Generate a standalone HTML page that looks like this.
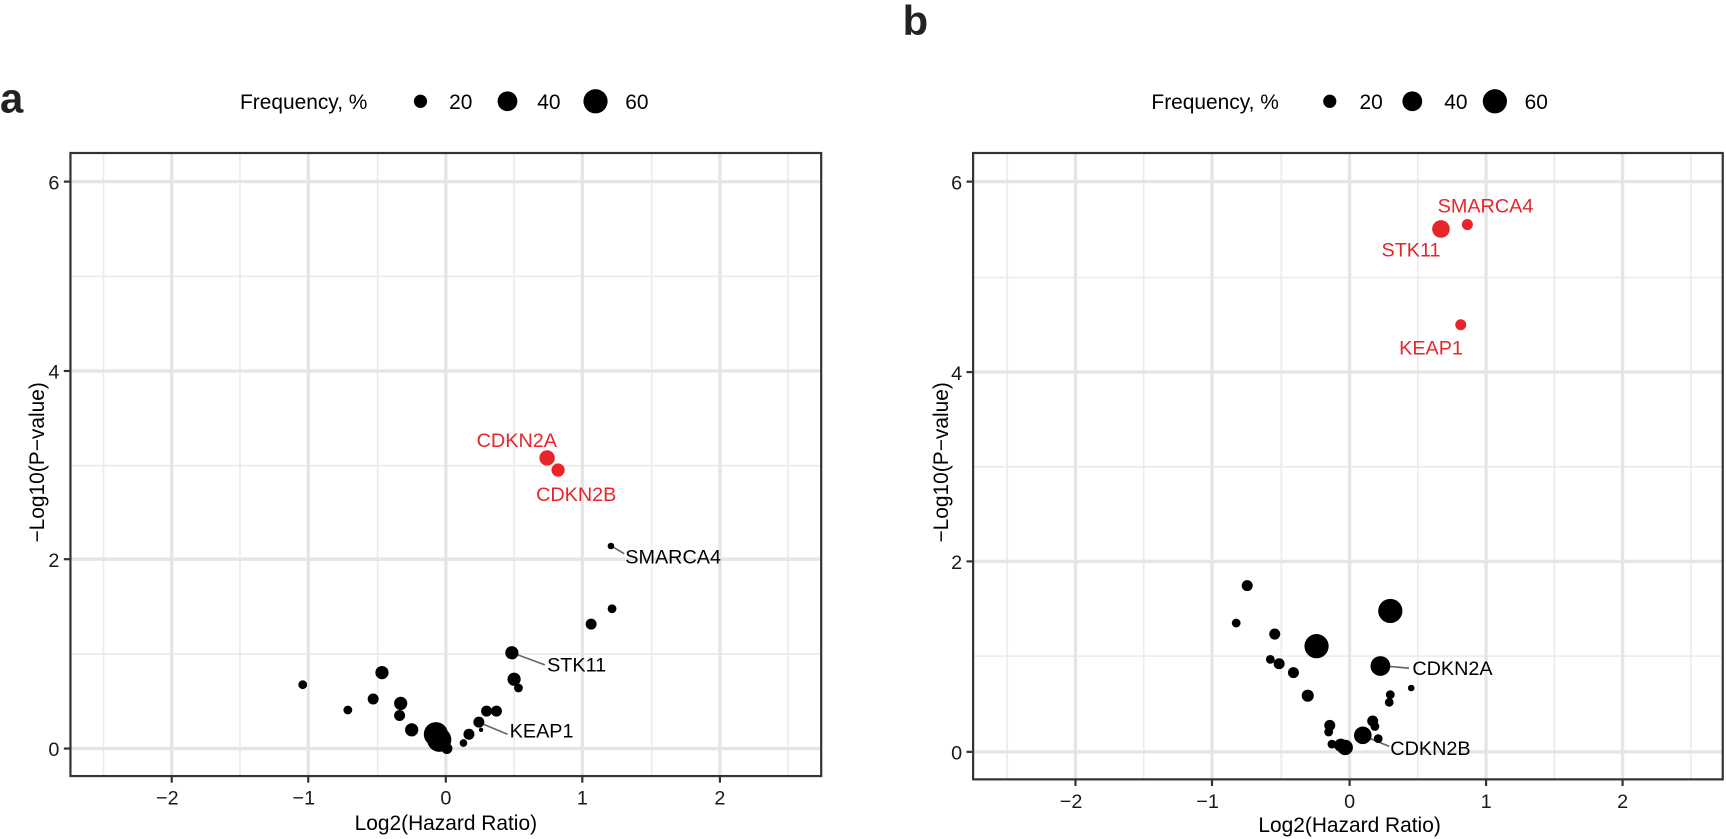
<!DOCTYPE html>
<html><head><style>body{margin:0;background:#fff}svg{display:block}text{font-family:"Liberation Sans",sans-serif}</style></head><body>
<svg width="1726" height="839" viewBox="0 0 1726 839">
<g transform="scale(1.1008)">
<text x="0" y="102" font-size="38" font-weight="bold" fill="#222">a</text>
<text x="820" y="32" font-size="38" font-weight="bold" fill="#222">b</text>
<g font-size="19" fill="#000">
<text x="218" y="99">Frequency, %</text>
<circle cx="382" cy="92" r="6"/><text x="408" y="99">20</text>
<circle cx="461" cy="92" r="9"/><text x="488" y="99">40</text>
<circle cx="541" cy="92" r="11"/><text x="568" y="99">60</text>
<text x="1046" y="99">Frequency, %</text>
<circle cx="1208" cy="92" r="6"/><text x="1235" y="99">20</text>
<circle cx="1283" cy="92" r="9"/><text x="1312" y="99">40</text>
<circle cx="1358" cy="92" r="11"/><text x="1385" y="99">60</text>
</g>
<g stroke="#ebebeb" stroke-width="1.5">
<line x1="94" y1="139" x2="94" y2="705"/><line x1="218" y1="139" x2="218" y2="705"/><line x1="343" y1="139" x2="343" y2="705"/><line x1="467" y1="139" x2="467" y2="705"/><line x1="592" y1="139" x2="592" y2="705"/><line x1="716" y1="139" x2="716" y2="705"/>
<line x1="64" y1="251" x2="746" y2="251"/><line x1="64" y1="423" x2="746" y2="423"/><line x1="64" y1="594" x2="746" y2="594"/>
<line x1="915" y1="139" x2="915" y2="708"/><line x1="1039" y1="139" x2="1039" y2="708"/><line x1="1164" y1="139" x2="1164" y2="708"/><line x1="1288" y1="139" x2="1288" y2="708"/><line x1="1412" y1="139" x2="1412" y2="708"/><line x1="1536" y1="139" x2="1536" y2="708"/>
<line x1="884" y1="252" x2="1565" y2="252"/><line x1="884" y1="424" x2="1565" y2="424"/><line x1="884" y1="596" x2="1565" y2="596"/>
</g>
<g stroke="#e5e5e5" stroke-width="3">
<line x1="156" y1="139" x2="156" y2="705"/><line x1="280" y1="139" x2="280" y2="705"/><line x1="405" y1="139" x2="405" y2="705"/><line x1="529" y1="139" x2="529" y2="705"/><line x1="654" y1="139" x2="654" y2="705"/>
<line x1="64" y1="165" x2="746" y2="165"/><line x1="64" y1="337" x2="746" y2="337"/><line x1="64" y1="508" x2="746" y2="508"/><line x1="64" y1="680" x2="746" y2="680"/>
<line x1="977" y1="139" x2="977" y2="708"/><line x1="1101" y1="139" x2="1101" y2="708"/><line x1="1226" y1="139" x2="1226" y2="708"/><line x1="1350" y1="139" x2="1350" y2="708"/><line x1="1474" y1="139" x2="1474" y2="708"/>
<line x1="884" y1="165" x2="1565" y2="165"/><line x1="884" y1="338" x2="1565" y2="338"/><line x1="884" y1="510" x2="1565" y2="510"/><line x1="884" y1="683" x2="1565" y2="683"/>
</g>
<g fill="none" stroke="#333" stroke-width="2">
<rect x="64" y="139" width="682" height="566"/>
<rect x="884" y="139" width="681" height="569"/>
</g>
<g stroke="#333" stroke-width="2">
<line x1="58" y1="165" x2="64" y2="165"/><line x1="58" y1="337" x2="64" y2="337"/><line x1="58" y1="508" x2="64" y2="508"/><line x1="58" y1="680" x2="64" y2="680"/>
<line x1="156" y1="705" x2="156" y2="711"/><line x1="280" y1="705" x2="280" y2="711"/><line x1="405" y1="705" x2="405" y2="711"/><line x1="529" y1="705" x2="529" y2="711"/><line x1="654" y1="705" x2="654" y2="711"/>
<line x1="878" y1="165" x2="884" y2="165"/><line x1="878" y1="338" x2="884" y2="338"/><line x1="878" y1="510" x2="884" y2="510"/><line x1="878" y1="683" x2="884" y2="683"/>
<line x1="977" y1="708" x2="977" y2="714"/><line x1="1101" y1="708" x2="1101" y2="714"/><line x1="1226" y1="708" x2="1226" y2="714"/><line x1="1350" y1="708" x2="1350" y2="714"/><line x1="1474" y1="708" x2="1474" y2="714"/>
</g>
<g font-size="18" fill="#1a1a1a" text-anchor="end">
<text x="54" y="172">6</text><text x="54" y="344">4</text><text x="54" y="515">2</text><text x="54" y="687">0</text>
<text x="874" y="172">6</text><text x="874" y="345">4</text><text x="874" y="517">2</text><text x="874" y="690">0</text>
</g>
<g font-size="18" fill="#1a1a1a" text-anchor="middle">
<text x="152" y="731">−2</text><text x="276" y="731">−1</text><text x="405" y="731">0</text><text x="529" y="731">1</text><text x="654" y="731">2</text>
<text x="973" y="734">−2</text><text x="1097" y="734">−1</text><text x="1226" y="734">0</text><text x="1350" y="734">1</text><text x="1474" y="734">2</text>
<text x="405" y="754" font-size="19" fill="#000">Log2(Hazard Ratio)</text>
<text x="1226" y="756" font-size="19" fill="#000">Log2(Hazard Ratio)</text>
<text transform="translate(40,420) rotate(-90)" font-size="19" fill="#000">−Log10(P−value)</text>
<text transform="translate(861,420) rotate(-90)" font-size="19" fill="#000">−Log10(P−value)</text>
</g>
<g stroke="#666" stroke-width="1.5">
<line x1="557" y1="497" x2="567" y2="503"/>
<line x1="468" y1="594" x2="495" y2="604"/>
<line x1="437" y1="657" x2="461" y2="667"/>
<line x1="1257" y1="605" x2="1280" y2="607"/>
<line x1="1240" y1="669" x2="1262" y2="678"/>
</g>
<g fill="#000">
<circle cx="275" cy="622" r="4"/><circle cx="316" cy="645" r="4"/><circle cx="339" cy="635" r="5"/><circle cx="347" cy="611" r="6"/><circle cx="364" cy="639" r="6"/><circle cx="363" cy="650" r="5"/><circle cx="374" cy="663" r="6"/><circle cx="396" cy="667" r="11"/><circle cx="399" cy="672" r="11"/><circle cx="406" cy="680" r="5"/><circle cx="421" cy="675" r="3.5"/><circle cx="426" cy="667" r="5"/><circle cx="435" cy="656" r="5"/><circle cx="437" cy="663" r="2"/><circle cx="442" cy="646" r="5"/><circle cx="451" cy="646" r="5"/><circle cx="465" cy="593" r="6"/><circle cx="467" cy="617" r="6"/><circle cx="471" cy="625" r="4"/><circle cx="537" cy="567" r="5"/><circle cx="556" cy="553" r="4"/><circle cx="555" cy="496" r="3"/>
</g>
<g fill="#e8252b">
<circle cx="497" cy="416" r="7"/><circle cx="507" cy="427" r="6"/>
<circle cx="1309" cy="208" r="8"/><circle cx="1333" cy="204" r="5"/><circle cx="1327" cy="295" r="5"/>
</g>
<g fill="#000">
<circle cx="1133" cy="532" r="5"/><circle cx="1123" cy="566" r="4"/><circle cx="1158" cy="576" r="5"/><circle cx="1196" cy="587" r="11"/><circle cx="1263" cy="555" r="11"/><circle cx="1254" cy="605" r="9"/><circle cx="1154" cy="599" r="4"/><circle cx="1162" cy="603" r="5"/><circle cx="1175" cy="611" r="5"/><circle cx="1188" cy="632" r="5.5"/><circle cx="1263" cy="631" r="4"/><circle cx="1262" cy="638" r="4"/><circle cx="1282" cy="625" r="3"/><circle cx="1208" cy="659" r="5"/><circle cx="1207" cy="665" r="4"/><circle cx="1247" cy="655" r="5"/><circle cx="1249" cy="660" r="4"/><circle cx="1238" cy="668" r="8"/><circle cx="1252" cy="671" r="4"/><circle cx="1210" cy="676" r="4"/><circle cx="1218" cy="677" r="6"/><circle cx="1222" cy="679" r="7"/>
</g>
<g font-size="18">
<text x="433" y="406" fill="#e8252b">CDKN2A</text>
<text x="487" y="455" fill="#e8252b">CDKN2B</text>
<text x="568" y="512" fill="#000">SMARCA4</text>
<text x="497" y="610" fill="#000">STK11</text>
<text x="463" y="670" fill="#000">KEAP1</text>
<text x="1306" y="193" fill="#e8252b">SMARCA4</text>
<text x="1255" y="233" fill="#e8252b">STK11</text>
<text x="1271" y="322" fill="#e8252b">KEAP1</text>
<text x="1283" y="613" fill="#000">CDKN2A</text>
<text x="1263" y="686" fill="#000">CDKN2B</text>
</g>
</g>
</svg>
</body></html>
